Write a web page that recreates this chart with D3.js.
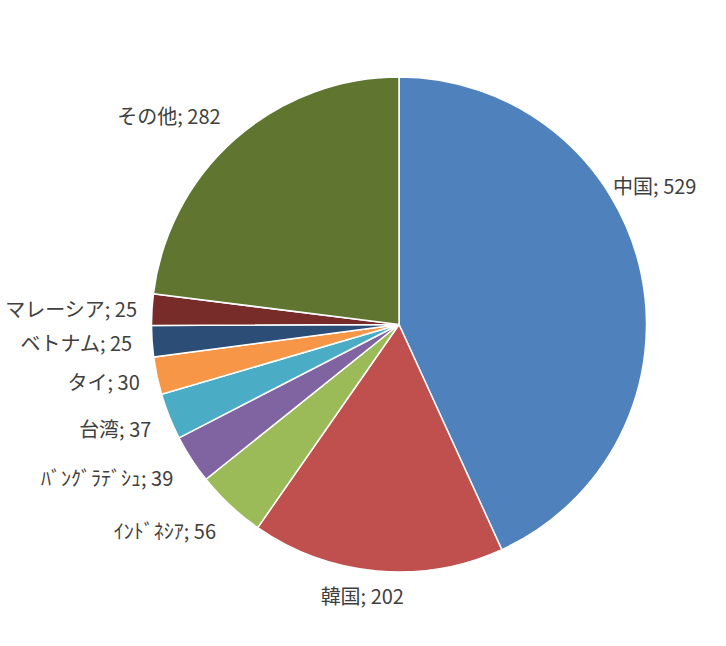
<!DOCTYPE html>
<html><head><meta charset="utf-8">
<script src="https://cdn.jsdelivr.net/npm/d3@7"></script>
<style>body{margin:0;background:#fff}svg{display:block}</style>
</head><body>
<svg id="chart" width="726" height="646"></svg>
<script>
const categories = ["中国", "韓国", "ｲﾝﾄﾞﾈｼｱ", "ﾊﾞﾝｸﾞﾗﾃﾞｼｭ", "台湾", "タイ", "ベトナム", "マレーシア", "その他"];
const values = [529, 202, 56, 39, 37, 30, 25, 25, 282];
const colors = ["#4F81BD", "#C0504D", "#9BBB59", "#8064A2", "#4BACC6", "#F79646", "#2C4D75", "#772C2A", "#5F7530"];
// label placement tweaks (angle in radians, extra radial distance) to mimic best-fit placement
const labelAngleNudge = [-0.363, 0.05, -0.025, -0.019, -0.016, -0.009, 0.0, 0.0, 0.016];
const labelRadiusExtra = [-8, 0, 12, 9, 5, 2, 4, -1, 11];

const svg = d3.select("#chart");
const cx = 399, cy = 324.5, R = 247.5;
const g = svg.append("g").attr("transform", `translate(${cx},${cy})`);

const data = categories.map((c, i) => ({cat: c, value: values[i], color: colors[i],
  nudge: labelAngleNudge[i], extra: labelRadiusExtra[i]}));
const pie = d3.pie().value(d => d.value).sort(null);
const arcs = pie(data);
const arc = d3.arc().innerRadius(0).outerRadius(R);

g.selectAll("path").data(arcs).join("path")
  .attr("d", arc)
  .attr("fill", d => d.data.color)
  .attr("stroke", "#fff")
  .attr("stroke-width", 1.5);

const font = "'Noto Sans CJK JP', 'Noto Sans', sans-serif";
const labelR = R + 16;
g.selectAll("text").data(arcs).join("text")
  .each(function(d) {
    const a = (d.startAngle + d.endAngle) / 2 + d.data.nudge;
    const r = labelR + d.data.extra;
    const s = Math.sin(a), c = Math.cos(a);
    const x = r * s, y = -r * c;
    let anchor = Math.abs(s) < 0.35 ? "middle" : (s > 0 ? "start" : "end");
    const yy = y + (c < -0.9 ? 10 : (c > 0.9 ? -10 : 0));
    d3.select(this)
      .attr("x", x).attr("y", yy)
      .attr("text-anchor", anchor)
      .attr("dominant-baseline", "central");
  })
  .attr("font-family", font)
  .attr("font-size", 20)
  .attr("fill", "#404040")
  .text(d => `${d.data.cat}; ${d.data.value}`);
</script>
</body></html>
